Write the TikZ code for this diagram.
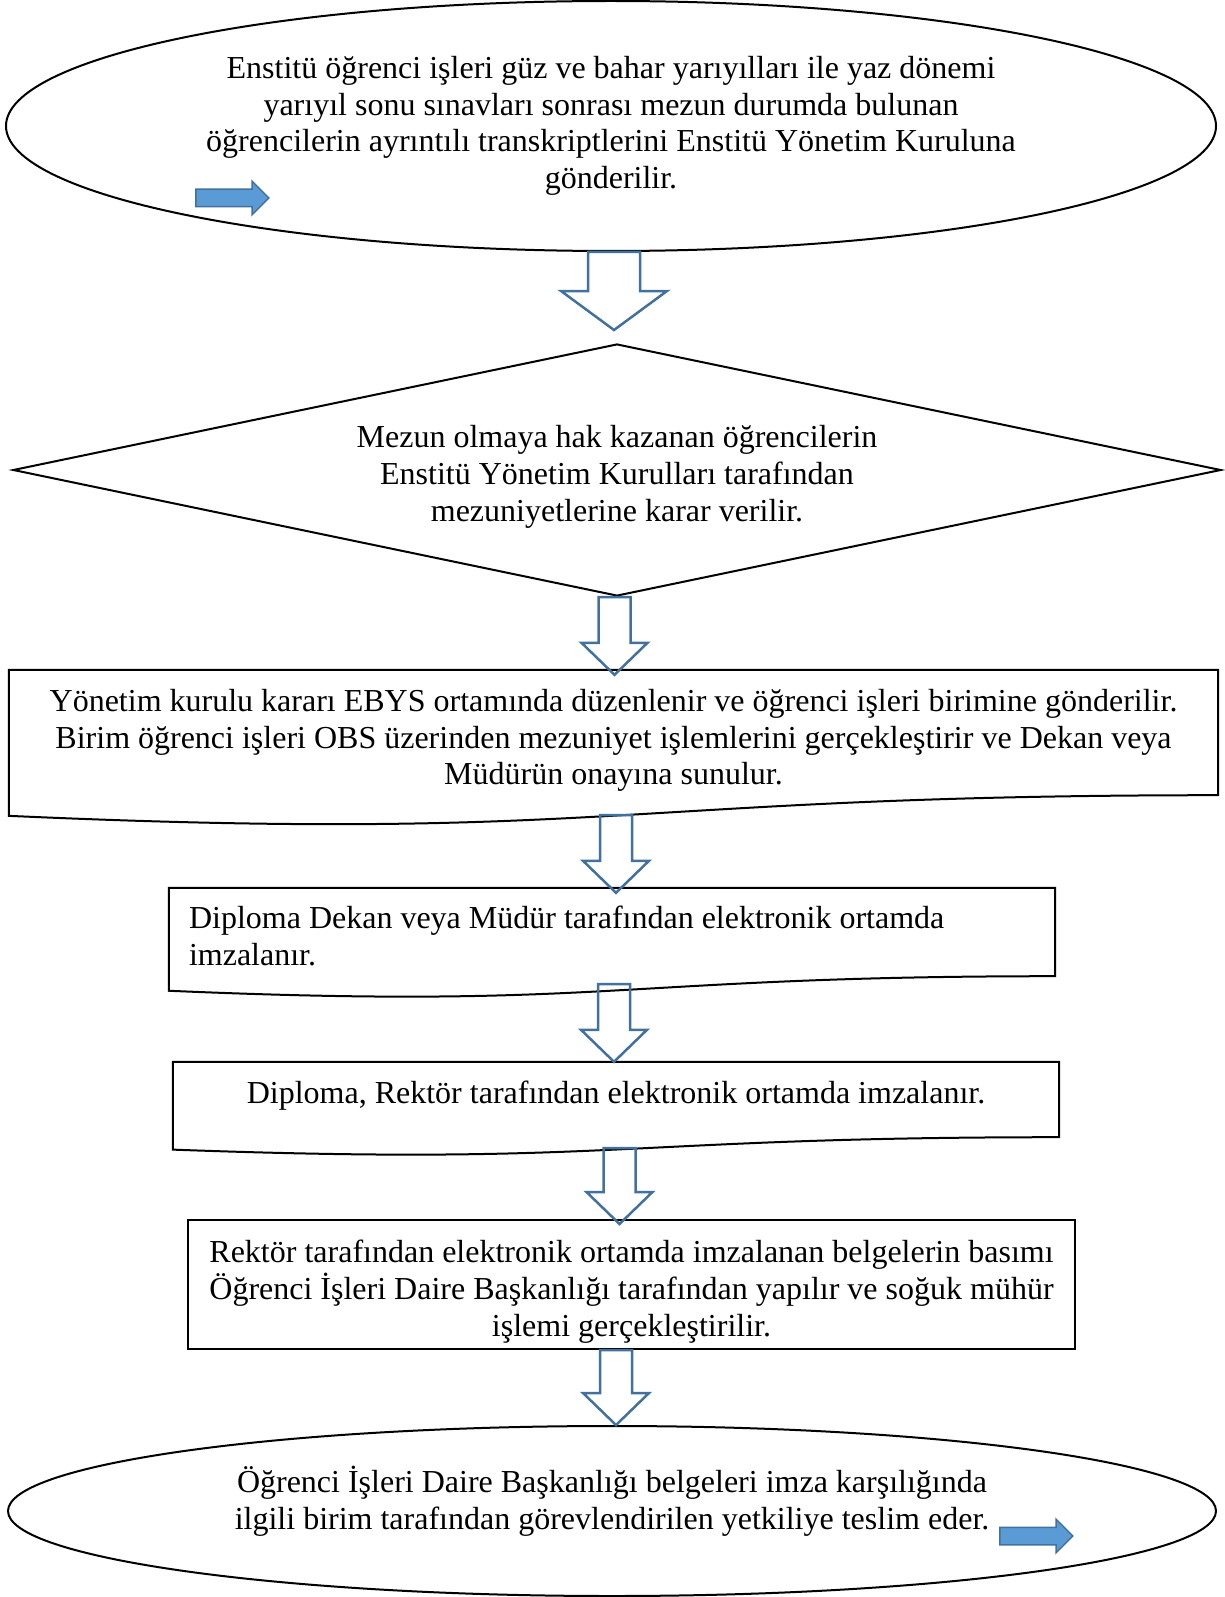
\documentclass[tikz,border=0pt]{standalone}
\usepackage{fontspec}
\setmainfont{Liberation Serif}
\usepackage{tikz}
\usetikzlibrary{calc,shapes.geometric,shapes.arrows}
\definecolor{okblue}{HTML}{41719C}
\definecolor{pijlblue}{HTML}{5B9BD5}
\tikzset{
  boxline/.style={draw=black,line width=2pt},
  okline/.style={draw=okblue,line width=2.5pt,line join=miter},
  pijl/.style={shape=single arrow,draw=okblue,fill=pijlblue,line width=1.5pt,
    inner sep=8pt,minimum height=73pt,single arrow head extend=8pt},
  oval/.style={boxline,ellipse,inner sep=0pt},
  metin/.style={inner sep=0pt,align=center}
}
\newcommand\bigok[5]{\draw[okline] let \p1=#1, \p2=#2 in
  (\x2-#3,\y1) -- (\x2+#3,\y1) -- (\x2+#3,\y2+#5) -- (\x2+#4,\y2+#5) -- (\p2)
  -- (\x2-#4,\y2+#5) -- (\x2-#3,\y2+#5) -- cycle;}
\newcommand\docline[1]{\draw[boxline] let \p1=(#1.north west), \p2=(#1.south east), \n1={\y1-\y2} in
  (\p1) -- (\x2,\y1) -- (\p2) .. controls ({(\x1+\x2)/2},\y2) and ({(\x1+\x2)/2},{\y2-0.381*\n1})
  .. (\x1,{\y2-0.1646*\n1}) -- cycle;}

\begin{document}
\begin{tikzpicture}[x=1pt,y=-1pt,every node/.style={font=\fontsize{32}{36.7}\selectfont}]
  \useasboundingbox (0,0) rectangle (1224,1597);
  \node[oval,minimum width=1210pt,minimum height=250pt] (ust) at (611,126) {};
  \node[boxline,diamond,inner sep=0pt,minimum width=1208pt,minimum height=252pt] (karar) at (617,470) {};
  \node[minimum width=1209pt,minimum height=125pt] (kurul) at (613.5,732.5) {};
  \node[minimum width=886pt,minimum height=88pt] (dekan) at (612,932) {};
  \node[minimum width=886pt,minimum height=75pt] (rektor) at (616,1099.5) {};
  \node[boxline,rectangle,minimum width=887pt,minimum height=129pt] (basim) at (631.5,1284.5) {};
  \node[oval,minimum width=1208pt,minimum height=170pt] (teslim) at (612,1511) {};
  \foreach \b in {kurul,dekan,rektor} {\docline{\b}}

  \node[metin] (t-ust) at (ust.center)
    {Enstitü öğrenci işleri güz ve bahar yarıyılları ile yaz dönemi\\
     yarıyıl sonu sınavları sonrası mezun durumda bulunan\\
     öğrencilerin ayrıntılı transkriptlerini Enstitü Yönetim Kuruluna\\
     gönderilir.};
  \node[metin] (t-karar) at ($(karar.center)+(0,7)$)
    {Mezun olmaya hak kazanan öğrencilerin\\
     Enstitü Yönetim Kurulları tarafından\\
     mezuniyetlerine karar verilir.};
  \node[metin] (t-kurul) at ($(kurul.center)+(0,8)$)
    {Yönetim kurulu kararı EBYS ortamında düzenlenir ve öğrenci işleri birimine gönderilir.\\
     Birim öğrenci işleri OBS üzerinden mezuniyet işlemlerini gerçekleştirir ve Dekan veya\\
     Müdürün onayına sunulur.};
  \node[metin,align=left,anchor=west] (t-dekan) at ($(dekan.west)+(20,4)$)
    {Diploma Dekan veya Müdür tarafından elektronik ortamda\\
     imzalanır.};
  \node[metin] (t-rektor) at ($(rektor.center)+(0,-4)$)
    {Diploma, Rektör tarafından elektronik ortamda imzalanır.};
  \node[metin] (t-basim) at ($(basim.center)+(0,7)$)
    {Rektör tarafından elektronik ortamda imzalanan belgelerin basımı\\
     Öğrenci İşleri Daire Başkanlığı tarafından yapılır ve soğuk mühür\\
     işlemi gerçekleştirilir.};
  \node[metin] (t-teslim) at ($(teslim.center)+(0,-10)$)
    {Öğrenci İşleri Daire Başkanlığı belgeleri imza karşılığında\\
     ilgili birim tarafından görevlendirilen yetkiliye teslim eder.};

  \node[pijl] (gir) at (228,198) {};
  \node[pijl] (cik) at (1032,1536) {};
  \bigok{(ust.south)}{($(karar.north)+(-3,-13)$)}{26pt}{53pt}{39pt}
  \foreach \a/\da/\b/\dx/\db in {karar.south/0/kurul.north/1/5,kurul.south/20/dekan.north/4/5,
      dekan.south/8/rektor.north/-2/0,rektor.south/11/basim.north/-12/5,basim.south/0/teslim.north/4/0} {
    \bigok{($(\a)+(0,\da)$)}{($(\b)+(\dx,\db)$)}{16pt}{33pt}{32pt}
  }
\end{tikzpicture}
\end{document}
